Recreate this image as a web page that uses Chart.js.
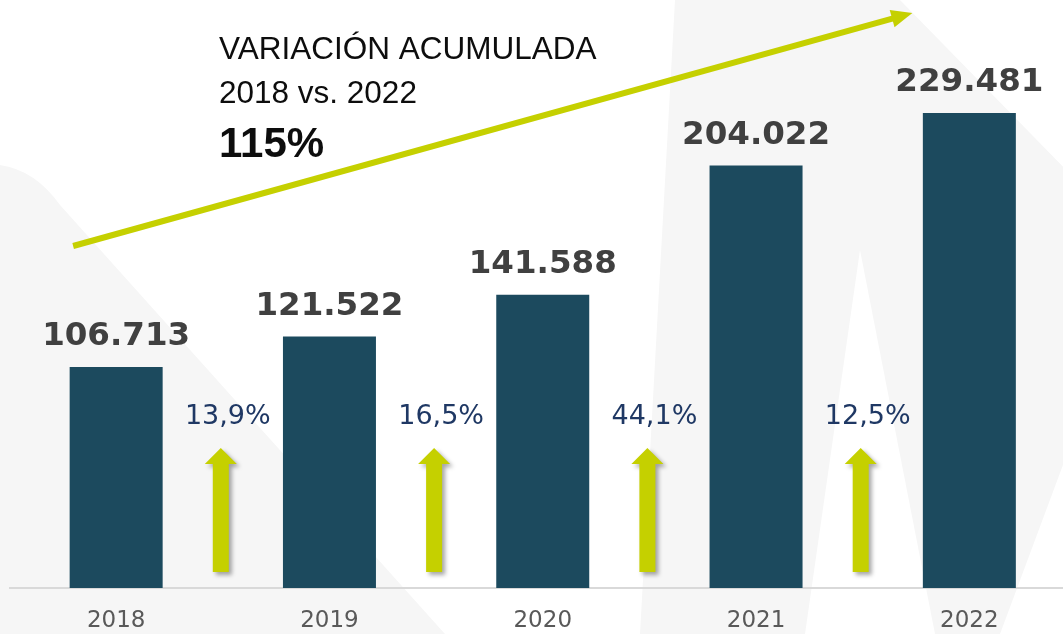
<!DOCTYPE html>
<html>
<head>
<meta charset="utf-8">
<script src="https://cdn.jsdelivr.net/npm/chart.js@4/dist/chart.umd.min.js"></script>
<style>
  body { margin: 0; background: #fff; overflow: hidden; }
  #wrap { width: 1063px; height: 634px; overflow: hidden; position: relative; }
</style>
</head>
<body>
<div id="wrap"><canvas id="myChart" width="1076" height="634"></canvas></div>
<script>
//Data
const years = ['2018', '2019', '2020', '2021', '2022'];
const totals = [106713, 121522, 141588, 204022, 229481];
const growth = [13.9, 16.5, 44.1, 12.5];
const titleLines = ['VARIACIÓN ACUMULADA', '2018 vs. 2022'];
const totalGrowth = '115%';

const barColor = '#1c4a5e';
const lime = '#c5d000';

//106713 -> "106.713"
function fmtThousands(n) {
  return String(n).replace(/\B(?=(\d{3})+(?!\d))/g, '.');
}
//13.9 -> "13,9%"
function fmtPct(v) {
  return v.toFixed(1).replace('.', ',') + '%';
}

//faint grey logo shapes behind the chart
const watermark = {
  id: 'watermark',
  beforeDraw(chart) {
    const ctx = chart.ctx;
    ctx.save();
    ctx.fillStyle = '#f6f6f6';
    ctx.beginPath();
    ctx.moveTo(0, 165);
    ctx.quadraticCurveTo(35, 170, 60, 205);
    ctx.lineTo(445, 634);
    ctx.lineTo(0, 634);
    ctx.closePath();
    ctx.fill();

    ctx.beginPath();
    ctx.moveTo(675, 0);
    ctx.lineTo(900, 0);
    ctx.lineTo(1076, 180);
    ctx.lineTo(1076, 430);
    ctx.lineTo(1000, 634);
    ctx.lineTo(935, 634);
    ctx.lineTo(860, 250);
    ctx.lineTo(805, 634);
    ctx.lineTo(640, 634);
    ctx.closePath();
    ctx.fill();
    ctx.restore();
  }
};

function upArrow(ctx, cx, tipY, baseY) {
  ctx.save();
  ctx.shadowColor = 'rgba(0,0,0,0.35)';
  ctx.shadowBlur = 4;
  ctx.shadowOffsetX = 3;
  ctx.shadowOffsetY = 3;
  ctx.fillStyle = lime;
  ctx.beginPath();
  ctx.moveTo(cx, tipY);
  ctx.lineTo(cx + 16, tipY + 16);
  ctx.lineTo(cx + 8, tipY + 16);
  ctx.lineTo(cx + 8, baseY);
  ctx.lineTo(cx - 8, baseY);
  ctx.lineTo(cx - 8, tipY + 16);
  ctx.lineTo(cx - 16, tipY + 16);
  ctx.closePath();
  ctx.fill();
  ctx.restore();
}

const labels = {
  id: 'labels',
  afterDatasetsDraw(chart) {
    const ctx = chart.ctx;
    const xs = chart.scales.x;
    const bottom = chart.chartArea.bottom;
    const meta = chart.getDatasetMeta(0);

    ctx.save();
    //values above bars
    ctx.font = 'bold 32.5px "DejaVu Sans"';
    ctx.fillStyle = '#404040';
    ctx.textAlign = 'center';
    ctx.textBaseline = 'middle';
    meta.data.forEach((bar, i) => {
      ctx.fillText(fmtThousands(totals[i]), bar.x, bar.y - 30);
    });

    //growth between bars
    ctx.font = '27px "DejaVu Sans"';
    ctx.fillStyle = '#1f3864';
    growth.forEach((g, i) => {
      const cx = (xs.getPixelForValue(i) + xs.getPixelForValue(i + 1)) / 2;
      ctx.fillText(fmtPct(g), cx + 5, bottom - 171);
      upArrow(ctx, cx - 2, bottom - 140, bottom - 16);
    });
    ctx.restore();
  },
  afterDraw(chart) {
    const ctx = chart.ctx;
    const xs = chart.scales.x;
    ctx.save();
    //big trend arrow
    const x0 = xs.getPixelForValue(0) - 43, y0 = 246;
    const x1 = xs.getPixelForValue(4) - 57, y1 = 13;
    const ang = Math.atan2(y1 - y0, x1 - x0);
    ctx.strokeStyle = lime;
    ctx.lineWidth = 6;
    ctx.beginPath();
    ctx.moveTo(x0, y0);
    ctx.lineTo(x1 - 18 * Math.cos(ang), y1 - 18 * Math.sin(ang));
    ctx.stroke();
    ctx.fillStyle = lime;
    ctx.beginPath();
    ctx.moveTo(x1, y1);
    ctx.lineTo(x1 - 21 * Math.cos(ang) + 9 * Math.sin(ang), y1 - 21 * Math.sin(ang) - 9 * Math.cos(ang));
    ctx.lineTo(x1 - 21 * Math.cos(ang) - 9 * Math.sin(ang), y1 - 21 * Math.sin(ang) + 9 * Math.cos(ang));
    ctx.closePath();
    ctx.fill();

    //title block
    ctx.fillStyle = '#0d0d0d';
    ctx.textAlign = 'left';
    ctx.textBaseline = 'alphabetic';
    ctx.font = '31.5px "Liberation Sans"';
    ctx.fillText(titleLines[0], 219, 59);
    ctx.fillText(titleLines[1], 219, 103);
    ctx.font = 'bold 42px "Liberation Sans"';
    ctx.fillText(totalGrowth, 219, 157);
    ctx.restore();
  }
};

function chartResults() {
  const ctx = document.getElementById('myChart').getContext('2d');
  const myChart = new Chart(ctx, {
    type: 'bar',
    data: {
      labels: years,
      datasets: [{
        data: totals,
        backgroundColor: barColor,
        borderWidth: 0,
        categoryPercentage: 1,
        barPercentage: 0.436
      }]
    },
    options: {
      responsive: false,
      animation: false,
      layout: { padding: { left: 9.5, right: 0, top: 0, bottom: 0 } },
      plugins: { legend: { display: false }, tooltip: { enabled: false } },
      scales: {
        x: {
          grid: { display: false, drawTicks: false },
          border: { display: true, color: '#d9d9d9', width: 2 },
          ticks: {
            color: '#595959',
            font: { family: 'DejaVu Sans', size: 23 },
            padding: 19
          },
          afterFit(scale) { scale.height = 46; }
        },
        y: {
          display: false,
          min: 0,
          max: 284000
        }
      }
    },
    plugins: [watermark, labels]
  });
}

//Run chart function
chartResults();
</script>
</body>
</html>
